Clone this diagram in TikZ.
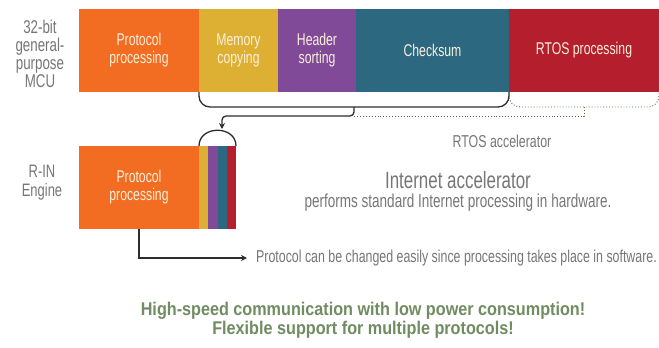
\documentclass[tikz,border=0pt]{standalone}
\usepackage{fontspec}
\setmainfont[FakeStretch=0.72]{Liberation Sans}
\newfontfamily\slogfont[FakeStretch=0.88]{Liberation Sans}
\usetikzlibrary{arrows.meta}
\definecolor{cOrange}{RGB}{242,108,34}
\definecolor{cYellow}{RGB}{221,176,52}
\definecolor{cPurple}{RGB}{128,74,152}
\definecolor{cTeal}{RGB}{44,104,128}
\definecolor{cRed}{RGB}{180,30,45}
\definecolor{cCream}{RGB}{252,240,220}
\definecolor{cGrey}{RGB}{118,118,118}
\definecolor{cGreen}{RGB}{112,140,96}
\definecolor{cDots}{RGB}{70,120,50}
\definecolor{cLine}{RGB}{45,45,45}
%% keep the line spacing fixed even with the big condensed text
\newcommand{\tightlines}{\lineskiplimit=-30pt\relax}

\begin{document}
\begin{tikzpicture}[x=1pt,y=-1pt,
    bar/.style={fill=#1, inner sep=0pt, outer sep=0pt, anchor=north west, minimum height=83pt,
      text=cCream, align=center, font=\fontsize{17}{18}\selectfont\tightlines},
    lbl/.style={text=cGrey, align=center, font=\fontsize{17.2}{18}\selectfont\tightlines},
    conn/.style={draw=cLine, line width=1.3pt},
    dotline/.style={draw=cDots, line width=0.9pt, dotted}]
	%% fixed frame so the page gets the right proportions
	\useasboundingbox (0,0) rectangle (659,348);
	%% the MCU row: five coloured blocks side by side
	\node[bar=cOrange, minimum width=120pt] (mcuproto) at (79,9) {Protocol\\processing};
	\node[bar=cYellow, minimum width=79pt] (mcumem) at (mcuproto.north east) {Memory\\copying};
	\node[bar=cPurple, minimum width=78pt] (mcuhead) at (mcumem.north east) {Header\\sorting};
	\node[bar=cTeal, minimum width=153pt] (mcucheck) at (mcuhead.north east) {Checksum};
	\node[bar=cRed, minimum width=150pt] (mcurtos) at (mcucheck.north east) {RTOS processing};
	%% the R-IN row: protocol block plus thin stripes for the hardware parts
	\node[bar=cOrange, minimum width=120pt] (rinproto) at (79,146) {Protocol\\processing};
	\node[bar=cYellow, minimum width=9.25pt] (rinmem) at (rinproto.north east) {};
	\node[bar=cPurple, minimum width=9.25pt] (rinhead) at (rinmem.north east) {};
	\node[bar=cTeal, minimum width=9.25pt] (rincheck) at (rinhead.north east) {};
	\node[bar=cRed, minimum width=9.25pt] (rinrtos) at (rincheck.north east) {};
	%% row labels
	\node[lbl, font=\fontsize{18.5}{18}\selectfont\tightlines] (mculbl) at (40,54) {32-bit\\general-\\purpose\\MCU};
	\node[lbl, font=\fontsize{18}{19}\selectfont\tightlines] (rinlbl) at (42,183) {R-IN\\Engine};
	%% braces under the MCU row
	\coordinate (tap) at (354,107);
	\coordinate (rtostap) at (584,107);
	\coordinate (tapjoin) at (354,116);
	\coordinate (arrowend) at (222,129);
	\draw[conn, rounded corners=11pt] (mcumem.south west) -- ++(0,15) -| (mcucheck.south east);
	\draw[dotline, rounded corners=11pt] (mcurtos.south west) -- ++(0,15) -| (mcurtos.south east);
	\draw[dotline] (rtostap) |- (tapjoin);
	\draw[conn, rounded corners=4pt, -{Stealth[length=6pt,width=6pt]}] (tap) |- (arrowend |- tapjoin) -- (arrowend);
	%% cap over the stripes
	\draw[conn] (rinmem.north west) .. controls +(0,-21) and +(0,-21) .. (rinrtos.north east);
	%% texts on the right
	\node[lbl] (rtoslbl) at (502,141) {RTOS accelerator};
	\node[lbl, font=\fontsize{23.5}{24}\selectfont] (ialbl) at (458,180) {Internet accelerator};
	\node[lbl, font=\fontsize{18.8}{20}\selectfont] (iadesc) at (458,203) {performs standard Internet processing in hardware.};
	\node[lbl, anchor=west, inner xsep=9pt] (swnote) at (247,258) {Protocol can be changed easily since processing takes place in software.};
	\draw[conn, -{Stealth[length=6pt,width=6pt]}] (rinproto.south) |- (swnote.west);
	%% slogan at the bottom
	\node[text=cGreen, align=center, font=\slogfont\bfseries\fontsize{18.4}{19.5}\selectfont\tightlines] (slogan) at (363,320)
		{High-speed communication with low power consumption!\\Flexible support for multiple protocols!};
\end{tikzpicture}
\end{document}
